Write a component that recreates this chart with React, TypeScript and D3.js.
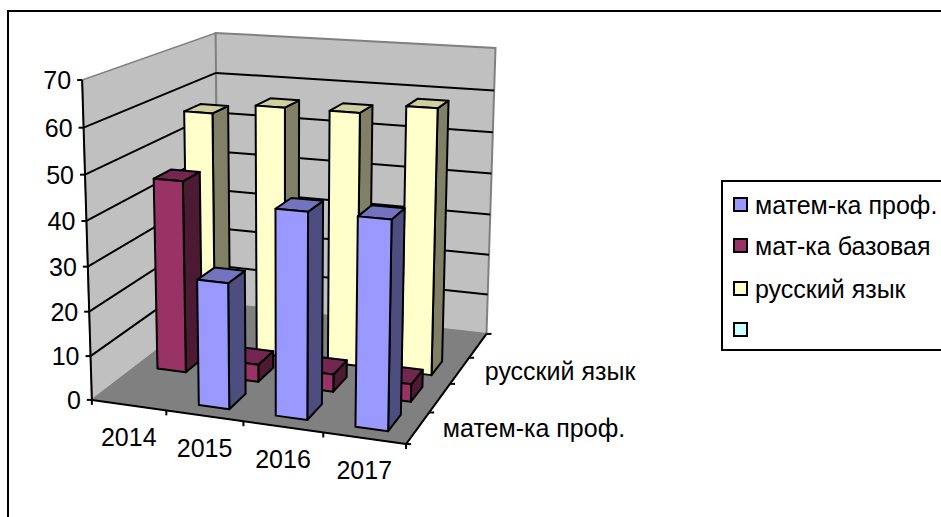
import React from "react";
import * as d3 from "d3";

const categories = ["2014", "2015", "2016", "2017"];
const seriesNames = ["матем-ка проф.", "мат-ка базовая", "русский язык", ""];
const profMath: (number | null)[] = [null, 28, 45, 45];
const baseMath: (number | null)[] = [44.5, 4, 4, 4];
const russian: (number | null)[] = [56.5, 59, 59, 61.2];
const emptySeries: (number | null)[] = [null, null, null, null];
const valueTicks = [0, 10, 20, 30, 40, 50, 60, 70];
const depthLabels = ["матем-ка проф.", "", "русский язык", ""];

const seriesValues = [profMath, baseMath, russian, emptySeries];
const frontColors = ["#9999FF", "#993366", "#FFFFCC", "#CCFFFF"];
const sideColors = ["#4D4D80", "#4D1A33", "#808066", "#668080"];
const topColors = ["#7373BF", "#732650", "#CFCFA0", "#99BFBF"];

// Frame corners of the 3-D box as seen on screen: [x, height, depth] -> [sx, sy]
const frame: [number[], number[]][] = [
  [[0, 0, 0], [93, 400]],
  [[1, 0, 0], [406, 444]],
  [[0, 0, 1], [217, 303]],
  [[1, 0, 1], [487, 334]],
  [[0, 1, 0], [81, 80]],
  [[0, 1, 1], [217, 33]],
  [[1, 1, 1], [495, 48]],
];

function solve(A: number[][], b: number[]) {
  const n = b.length;
  const M = A.map((r, i) => [...r, b[i]]);
  for (let c = 0; c < n; c++) {
    let p = c;
    for (let r = c + 1; r < n; r++) if (Math.abs(M[r][c]) > Math.abs(M[p][c])) p = r;
    [M[c], M[p]] = [M[p], M[c]];
    for (let r = 0; r < n; r++) {
      if (r === c) continue;
      const f = M[r][c] / M[c][c];
      for (let k = c; k <= n; k++) M[r][k] -= f * M[c][k];
    }
  }
  return M.map((r, i) => r[n] / r[i]);
}

function fitCamera() {
  const S = 500;
  const rows: number[][] = [];
  const rhs: number[] = [];
  frame.forEach(([[x, y, z], [sx, sy]]) => {
    const u = sx / S, v = sy / S;
    rows.push([x, y, z, 1, 0, 0, 0, 0, -u * x, -u * y, -u * z]);
    rhs.push(u);
    rows.push([0, 0, 0, 0, x, y, z, 1, -v * x, -v * y, -v * z]);
    rhs.push(v);
  });
  const AtA = d3.range(11).map((i) => d3.range(11).map((j) => d3.sum(rows, (r) => r[i] * r[j])));
  const Atb = d3.range(11).map((i) => d3.sum(rows, (r, k) => r[i] * rhs[k]));
  const p = solve(AtA, Atb);
  return (x: number, y: number, z: number): [number, number] => {
    const w = p[8] * x + p[9] * y + p[10] * z + 1;
    return [
      (S * (p[0] * x + p[1] * y + p[2] * z + p[3])) / w,
      (S * (p[4] * x + p[5] * y + p[6] * z + p[7])) / w,
    ];
  };
}
const project = fitCamera();

const xScale = d3.scaleBand<string>().domain(categories).range([0, 1]).paddingInner(0.6).paddingOuter(0.3);
const xOuter = d3.scaleBand<string>().domain(categories).range([0, 1]).padding(0);
const zDomain = d3.range(seriesNames.length).map(String);
const zScale = d3.scaleBand<string>().domain(zDomain).range([0, 1]).paddingInner(0.45).paddingOuter(0.3);
const zOuter = d3.scaleBand<string>().domain(zDomain).range([0, 1]).padding(0);
const yScale = d3.scaleLinear().domain([0, 70]).range([0, 1]);

const poly = (pts: [number, number][]) => {
  const path = d3.path();
  pts.forEach((p, i) => (i ? path.lineTo(p[0], p[1]) : path.moveTo(p[0], p[1])));
  path.closePath();
  return path.toString();
};
const seg = (a: [number, number], b: [number, number]) => {
  const path = d3.path();
  path.moveTo(a[0], a[1]);
  path.lineTo(b[0], b[1]);
  return path.toString();
};

const FONT = "'Liberation Sans', Arial, sans-serif";
const FS = 25;
const legendRows = [198, 239, 282, 323];

export default function App() {
  const bars: React.ReactNode[] = [];
  for (let s = seriesValues.length - 1; s >= 0; s--) {
    categories.forEach((c, i) => {
      const v = seriesValues[s][i];
      if (v == null) return;
      const x0 = xScale(c)!;
      const x1 = x0 + xScale.bandwidth();
      const z0 = zScale(String(s))!;
      const z1 = z0 + zScale.bandwidth();
      const h = yScale(v);
      const P = (x: number, y: number, z: number) => project(x, y, z);
      bars.push(
        <g key={`${s}-${i}`} stroke="#000" strokeWidth={2} strokeLinejoin="round">
          <path d={poly([P(x1, 0, z0), P(x1, 0, z1), P(x1, h, z1), P(x1, h, z0)])} fill={sideColors[s]} />
          <path d={poly([P(x0, h, z0), P(x1, h, z0), P(x1, h, z1), P(x0, h, z1)])} fill={topColors[s]} />
          <path d={poly([P(x0, 0, z0), P(x1, 0, z0), P(x1, h, z0), P(x0, h, z0)])} fill={frontColors[s]} />
        </g>
      );
    });
  }
  const A = project(0, 0, 0), B = project(1, 0, 0), C = project(0, 0, 1), D = project(1, 0, 1);
  const E = project(0, 1, 0), F = project(0, 1, 1), G = project(1, 1, 1);
  const xEdges = [...categories.map((c) => xOuter(c)!), 1];
  const zEdges = [...zDomain.map((z) => zOuter(z)!), 1];
  return (
    <svg
      width={941}
      height={517}
      style={{ position: "absolute", left: 0, top: 0, fontFamily: FONT }}
    >
      <rect x={0} y={0} width={941} height={517} fill="#fff" />
      <path d="M8,517 L8,11 L941,11" fill="none" stroke="#000" strokeWidth={2} />
      <path d={poly([A, E, F, C])} fill="#C0C0C0" stroke="#808080" strokeWidth={1.5} />
      <path d={poly([C, F, G, D])} fill="#C0C0C0" stroke="#808080" strokeWidth={2} />
      <path d={poly([A, B, D, C])} fill="#808080" stroke="#808080" strokeWidth={1} />
      {valueTicks.slice(1, -1).map((t) => {
        const y = yScale(t);
        return (
          <path
            key={t}
            d={seg(project(0, y, 0), project(0, y, 1)) + seg(project(0, y, 1), project(1, y, 1))}
            fill="none"
            stroke="#000"
            strokeWidth={2}
          />
        );
      })}
      {bars}
      <g stroke="#000" strokeWidth={2} fill="none">
        <path d={seg(A, E)} />
        <path d={seg(A, B)} />
        <path d={seg(B, D)} />
        {valueTicks.map((t) => {
          const p = project(0, yScale(t), 0);
          return <path key={t} d={seg(p, [p[0] - 5, p[1]])} />;
        })}
        {xEdges.map((x) => {
          const p = project(x, 0, 0);
          return <path key={x} d={seg(p, [p[0], p[1] + 5])} />;
        })}
        {zEdges.map((z) => {
          const p = project(1, 0, z);
          return <path key={z} d={seg(p, [p[0] + 5, p[1]])} />;
        })}
      </g>
      <g fontSize={FS} fill="#000">
        {valueTicks.map((t) => {
          const p = project(0, yScale(t), 0);
          return (
            <text key={t} x={p[0] - 11} y={p[1]} dy="0.36em" textAnchor="end">
              {t}
            </text>
          );
        })}
        {categories.map((c) => {
          const p = project(xOuter(c)! + xOuter.bandwidth() / 2, 0, 0);
          return (
            <text key={c} x={p[0]} y={p[1] + 32} dy="0.36em" textAnchor="middle">
              {c}
            </text>
          );
        })}
        {depthLabels.map((l, i) => {
          if (!l) return null;
          const p = project(1, 0, zOuter(String(i))! + zOuter.bandwidth() / 2);
          return (
            <text key={i} x={p[0] + 25} y={p[1]} dy="0.36em">
              {l}
            </text>
          );
        })}
      </g>
      <path d="M941,181 L722,181 L722,350 L941,350" fill="none" stroke="#000" strokeWidth={2} />
      {seriesNames.map((n, i) => (
        <g key={i}>
          <rect x={734} y={legendRows[i]} width={13} height={13} fill={frontColors[i]} stroke="#000" strokeWidth={2} />
          <text x={755} y={legendRows[i] + 7} dy="0.36em" fontSize={FS} fill="#000">
            {n}
          </text>
        </g>
      ))}
    </svg>
  );
}
